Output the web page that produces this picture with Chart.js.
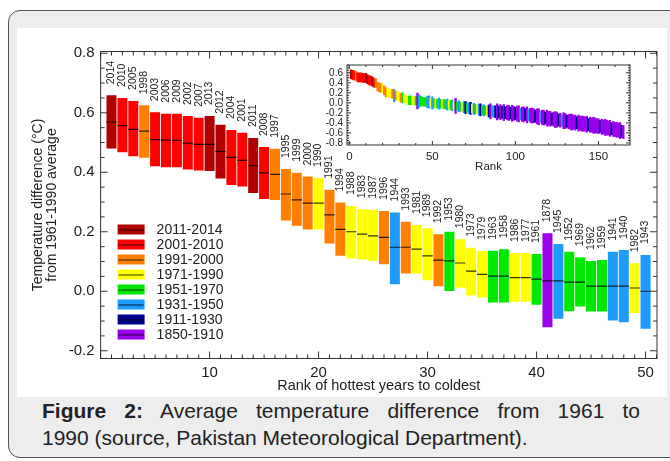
<!DOCTYPE html>
<html>
<head>
<meta charset="utf-8">
<script src="https://cdn.jsdelivr.net/npm/chart.js@4.4.1/dist/chart.umd.min.js"></script>
<style>
  html, body { margin: 0; padding: 0; background: #fff; }
  body { width: 670px; height: 461px; position: relative; overflow: hidden; font-family: "Liberation Sans", Arial, sans-serif; }
  #card { position: absolute; left: 8px; top: 10px; width: 690px; height: 446px; border: 1px solid #555; border-radius: 12px; background: #ededed; }
  #panel { position: absolute; left: 17px; top: 28px; width: 650px; height: 369px; background: #fff; }
  #inset { position: absolute; left: 310px; top: 55px; width: 330px; height: 120px; }
  #caption { position: absolute; left: 42px; top: 397px; width: 598px; font-size: 21px; line-height: 27px; color: #222; }
  #caption .l1 { display: block; text-align: justify; text-align-last: justify; }
  #caption .l2 { display: block; }
</style>
</head>
<body>
<div id="card"></div>
<div id="panel"><canvas id="mainChart"></canvas></div>
<div id="inset"><canvas id="insetChart"></canvas></div>
<div id="caption">
  <span class="l1"><b>Figure 2:</b> Average temperature difference from 1961 to</span>
  <span class="l2">1990 (source, Pakistan Meteorological Department).</span>
</div>
<script>
// === Eras (legend) ===
const eraLabels = ['2011-2014', '2001-2010', '1991-2000', '1971-1990', '1951-1970', '1931-1950', '1911-1930', '1850-1910'];
const eraStart = [2011, 2001, 1991, 1971, 1951, 1931, 1911, 1850];
const eraColors = ['#b00000', '#ff0000', '#ff8000', '#ffff00', '#00e800', '#1e9bff', '#00008f', '#9a00ee'];

// === Top 50 hottest years ===
const years = ['2014', '2010', '2005', '1998', '2003', '2006', '2009', '2002', '2007', '2013',
  '2012', '2004', '2001', '2011', '2008', '1997', '1995', '1999', '2000', '1990',
  '1991', '1994', '1988', '1983', '1987', '1996', '1944', '1993', '1981', '1989',
  '1992', '1953', '1980', '1973', '1979', '1963', '1958', '1986', '1977', '1961',
  '1878', '1945', '1952', '1969', '1962', '1959', '1941', '1940', '1982', '1943'];
const means = [0.569, 0.557, 0.544, 0.538, 0.510, 0.508, 0.507, 0.498, 0.494, 0.494,
  0.470, 0.450, 0.440, 0.422, 0.398, 0.393, 0.327, 0.307, 0.296, 0.296,
  0.257, 0.208, 0.200, 0.192, 0.186, 0.181, 0.148, 0.148, 0.142, 0.119,
  0.105, 0.102, 0.095, 0.068, 0.057, 0.051, 0.051, 0.046, 0.046, 0.041,
  0.035, 0.035, 0.031, 0.031, 0.017, 0.017, 0.017, 0.017, 0.011, 0.000];
const highs = [0.659, 0.650, 0.640, 0.625, 0.602, 0.597, 0.597, 0.589, 0.583, 0.589,
  0.560, 0.542, 0.533, 0.515, 0.485, 0.479, 0.411, 0.398, 0.386, 0.381,
  0.341, 0.298, 0.287, 0.276, 0.274, 0.270, 0.265, 0.234, 0.223, 0.212,
  0.192, 0.200, 0.175, 0.146, 0.135, 0.136, 0.141, 0.129, 0.129, 0.125,
  0.195, 0.159, 0.133, 0.114, 0.102, 0.105, 0.133, 0.139, 0.094, 0.122];
const lows = [0.480, 0.467, 0.454, 0.449, 0.420, 0.417, 0.417, 0.409, 0.406, 0.404,
  0.379, 0.357, 0.352, 0.330, 0.310, 0.307, 0.238, 0.220, 0.208, 0.208,
  0.161, 0.119, 0.110, 0.107, 0.103, 0.091, 0.024, 0.060, 0.060, 0.037,
  0.017, 0.001, 0.012, -0.014, -0.021, -0.038, -0.038, -0.035, -0.035, -0.045,
  -0.121, -0.092, -0.067, -0.051, -0.068, -0.068, -0.098, -0.104, -0.073, -0.126];

const mainXTicks = [10, 20, 30, 40, 50];
const mainYTicks = [-0.2, 0.0, 0.2, 0.4, 0.6, 0.8];

// === Inset: ranks 51-165 ===
// era codes: Y 1971-1990, G 1951-1970, B 1931-1950, D 1911-1930, P 1850-1910
const insetEraCodes = ('GYGBGYGGBY' + 'GBYPGBGYBD' + 'GBDYBGYBDG' + 'BGYDPBBDPD' + 'PDPDPPDPPD' +
  'PPBPPDPBPP' + 'PDPPBPPDPP' + 'PDPPPDPBPP' + 'DPPPPPDPPP' + 'PPPDPPPPPP' + 'DPPPPPPDPP' + 'PPPDP').split('');
const insetMeans = [-0.004, -0.008, -0.012, -0.015, -0.021, -0.024, -0.026, -0.031, -0.036, -0.040,
  -0.043, -0.049, -0.053, -0.060, -0.064, -0.069, -0.076, -0.080, -0.087, -0.093,
  -0.097, -0.104, -0.109, -0.113, -0.120, -0.124, -0.131, -0.135, -0.139, -0.146,
  -0.149, -0.153, -0.158, -0.161, -0.167, -0.170, -0.172, -0.177, -0.180, -0.182,
  -0.186, -0.188, -0.193, -0.195, -0.197, -0.201, -0.203, -0.207, -0.210, -0.211,
  -0.215, -0.219, -0.221, -0.227, -0.230, -0.233, -0.239, -0.243, -0.246, -0.253,
  -0.257, -0.265, -0.269, -0.277, -0.281, -0.289, -0.293, -0.301, -0.305, -0.313,
  -0.316, -0.323, -0.326, -0.333, -0.336, -0.343, -0.346, -0.353, -0.356, -0.363,
  -0.366, -0.373, -0.376, -0.383, -0.386, -0.393, -0.396, -0.403, -0.406, -0.413,
  -0.416, -0.423, -0.426, -0.433, -0.436, -0.443, -0.446, -0.453, -0.457, -0.465,
  -0.469, -0.477, -0.481, -0.489, -0.493, -0.501, -0.506, -0.515, -0.520, -0.529,
  -0.535, -0.546, -0.553, -0.567, -0.582];
const insetSpread = [0.09, 0.085, 0.09, 0.11, 0.09, 0.085, 0.09, 0.09, 0.11, 0.085,
  0.09, 0.11, 0.085, 0.15, 0.09, 0.11, 0.09, 0.085, 0.11, 0.12,
  0.09, 0.11, 0.12, 0.085, 0.11, 0.09, 0.085, 0.11, 0.12, 0.09,
  0.11, 0.09, 0.085, 0.12, 0.15, 0.11, 0.11, 0.12, 0.16, 0.12,
  0.15, 0.12, 0.16, 0.12, 0.14, 0.15, 0.12, 0.16, 0.14, 0.12,
  0.15, 0.16, 0.11, 0.14, 0.15, 0.12, 0.16, 0.11, 0.14, 0.15,
  0.14, 0.12, 0.15, 0.16, 0.11, 0.14, 0.15, 0.12, 0.16, 0.14,
  0.15, 0.12, 0.14, 0.16, 0.15, 0.12, 0.14, 0.11, 0.16, 0.15,
  0.12, 0.14, 0.15, 0.16, 0.14, 0.15, 0.12, 0.16, 0.14, 0.15,
  0.15, 0.14, 0.16, 0.12, 0.15, 0.14, 0.16, 0.15, 0.14, 0.15,
  0.12, 0.15, 0.14, 0.16, 0.15, 0.14, 0.16, 0.12, 0.15, 0.14,
  0.15, 0.14, 0.16, 0.12, 0.13];
const insetXTicks = [0, 50, 100, 150];
const insetYTicks = [-0.8, -0.6, -0.4, -0.2, 0.0, 0.2, 0.4, 0.6];

const FONT = '"Liberation Sans", Arial, Helvetica, sans-serif';
const codeToEra = { Y: 3, G: 4, B: 5, D: 6, P: 7 };
const eraOf = year => eraStart.findIndex(s => Number(year) >= s);

Chart.defaults.font.family = FONT;
Chart.defaults.color = '#222';

// === Frame with inward ticks on all four sides ===
function frameTicks(cfg) {
  return {
    id: 'frameTicks',
    afterDatasetsDraw(chart) {
      const { ctx, chartArea: a, scales: { x, y } } = chart;
      const each = (scale, minor, major, fn) => {
        const k0 = Math.ceil(scale.min / minor - 1e-6);
        const k1 = Math.floor(scale.max / minor + 1e-6);
        for (let k = k0; k <= k1; k++) {
          const v = k * minor;
          const isMajor = Math.abs(v / major - Math.round(v / major)) < 1e-6;
          fn(scale.getPixelForValue(v), isMajor ? cfg.major : cfg.minor);
        }
      };
      ctx.save();
      ctx.strokeStyle = '#333';
      ctx.lineWidth = 1;
      ctx.strokeRect(a.left, a.top, a.right - a.left, a.bottom - a.top);
      ctx.beginPath();
      each(x, cfg.xMinor, cfg.xMajor, (px, len) => {
        ctx.moveTo(px, a.bottom); ctx.lineTo(px, a.bottom - len);
        ctx.moveTo(px, a.top); ctx.lineTo(px, a.top + len);
      });
      each(y, cfg.yMinor, cfg.yMajor, (py, len) => {
        ctx.moveTo(a.left, py); ctx.lineTo(a.left + len, py);
        ctx.moveTo(a.right, py); ctx.lineTo(a.right - len, py);
      });
      ctx.stroke();
      ctx.restore();
    }
  };
}

// === Year labels above each bar ===
const yearLabels = {
  id: 'yearLabels',
  afterDatasetsDraw(chart) {
    const { ctx, scales: { x, y } } = chart;
    ctx.save();
    ctx.fillStyle = '#222';
    ctx.font = '10.5px ' + FONT;
    ctx.textAlign = 'left';
    ctx.textBaseline = 'middle';
    years.forEach((yr, i) => {
      ctx.save();
      ctx.translate(x.getPixelForValue(i + 1), y.getPixelForValue(highs[i]) - 11);
      ctx.rotate(-Math.PI / 2);
      ctx.fillText(yr, 0, 0);
      ctx.restore();
    });
    ctx.restore();
  }
};

// === Era legend inside the plot ===
const eraLegend = {
  id: 'eraLegend',
  afterDatasetsDraw(chart) {
    const { ctx, chartArea: a } = chart;
    const x0 = a.left + 17, top = a.top + 178;
    ctx.save();
    ctx.font = '14px ' + FONT;
    ctx.textBaseline = 'middle';
    eraLabels.forEach((lab, i) => {
      const cy = top + i * 15;
      ctx.fillStyle = eraColors[i];
      ctx.fillRect(x0, cy - 5, 27, 10);
      ctx.strokeStyle = 'rgba(0,0,0,0.8)';
      ctx.lineWidth = 1;
      ctx.beginPath();
      ctx.moveTo(x0 + 1, cy + 0.5); ctx.lineTo(x0 + 26, cy + 0.5);
      ctx.stroke();
      ctx.fillStyle = '#222';
      ctx.fillText(lab, x0 + 39, cy + 1);
    });
    ctx.restore();
  }
};

// === Main chart ===
const barData = years.map((yr, i) => ({ x: i + 1, y: [lows[i], highs[i]] }));
const meanData = years.map((yr, i) => ({ x: i + 1, y: means[i] }));
const barColors = years.map(yr => eraColors[eraOf(yr)]);

new Chart(document.getElementById('mainChart'), {
  type: 'bar',
  data: {
    datasets: [
      {
        type: 'line',
        data: meanData,
        showLine: false,
        pointStyle: 'line',
        pointRadius: 5.2,
        pointBorderColor: 'rgba(0,0,0,0.8)',
        pointBorderWidth: 1.2,
        order: 1
      },
      {
        type: 'bar',
        data: barData,
        backgroundColor: barColors,
        borderWidth: 0,
        barPercentage: 0.92,
        categoryPercentage: 1,
        order: 2
      }
    ]
  },
  options: {
    responsive: true,
    maintainAspectRatio: false,
    animation: false,
    layout: { padding: { top: 23.5, right: 10, left: 0, bottom: 0 } },
    plugins: { legend: { display: false }, tooltip: { enabled: false } },
    scales: {
      x: {
        type: 'linear',
        min: 0,
        max: 51.05,
        offset: false,
        grid: { display: false, drawTicks: false },
        border: { display: false },
        afterBuildTicks: s => { s.ticks = mainXTicks.map(v => ({ value: v })); },
        afterFit: s => { s.height = 38.5; },
        ticks: { font: { size: 15 }, color: '#222', padding: 5, maxRotation: 0, autoSkip: false },
        title: {
          display: true,
          text: 'Rank of hottest years to coldest',
          color: '#222',
          font: { size: 14.5 },
          padding: { top: 0, bottom: 2.5 }
        }
      },
      y: {
        min: -0.226,
        max: 0.806,
        grid: { display: false, drawTicks: false },
        border: { display: false },
        afterBuildTicks: s => { s.ticks = mainYTicks.map(v => ({ value: v })); },
        afterFit: s => { s.width = 83.6; },
        ticks: { font: { size: 15 }, color: '#222', padding: 6, callback: v => v.toFixed(1) },
        title: {
          display: true,
          text: ['Temperature difference (°C)', 'from 1961-1990 average'],
          color: '#222',
          font: { size: 14, lineHeight: 1.0 },
          padding: { top: 14, bottom: 0 }
        }
      }
    }
  },
  plugins: [frameTicks({ xMajor: 10, xMinor: 1, yMajor: 0.2, yMinor: 0.05, major: 7, minor: 4 }), yearLabels, eraLegend]
});

// === Inset chart: all years ===
const insetBars = [];
const insetColors = [];
years.forEach((yr, i) => {
  insetBars.push({ x: i + 1, y: [lows[i], highs[i]] });
  insetColors.push(eraColors[eraOf(yr)]);
});
insetMeans.forEach((m, j) => {
  insetBars.push({ x: years.length + j + 1, y: [m - insetSpread[j], m + insetSpread[j]] });
  insetColors.push(eraColors[codeToEra[insetEraCodes[j]]]);
});

new Chart(document.getElementById('insetChart'), {
  type: 'bar',
  data: {
    datasets: [{
      data: insetBars,
      backgroundColor: insetColors,
      borderWidth: 0,
      barPercentage: 1,
      categoryPercentage: 1
    }]
  },
  options: {
    responsive: true,
    maintainAspectRatio: false,
    animation: false,
    layout: { padding: { top: 7, right: 10, left: 0, bottom: 0 } },
    plugins: { legend: { display: false }, tooltip: { enabled: false } },
    scales: {
      x: {
        type: 'linear',
        min: -1.4,
        max: 169,
        offset: false,
        grid: { display: false, drawTicks: false },
        border: { display: false },
        afterBuildTicks: s => { s.ticks = insetXTicks.map(v => ({ value: v })); },
        afterFit: s => { s.height = 30; },
        ticks: { font: { size: 11.5 }, color: '#222', padding: 5, maxRotation: 0, autoSkip: false },
        title: {
          display: true,
          text: 'Rank',
          color: '#222',
          font: { size: 11.5 },
          padding: { top: 0, bottom: 1 }
        }
      },
      y: {
        min: -0.84,
        max: 0.755,
        grid: { display: false, drawTicks: false },
        border: { display: false },
        afterBuildTicks: s => { s.ticks = insetYTicks.map(v => ({ value: v })); },
        afterFit: s => { s.width = 37; },
        ticks: { font: { size: 10 }, color: '#222', padding: 4, autoSkip: false, callback: v => v.toFixed(1) }
      }
    }
  },
  plugins: [frameTicks({ xMajor: 50, xMinor: 10, yMajor: 0.2, yMinor: 0.05, major: 4, minor: 2 })]
});
</script>
</body>
</html>
